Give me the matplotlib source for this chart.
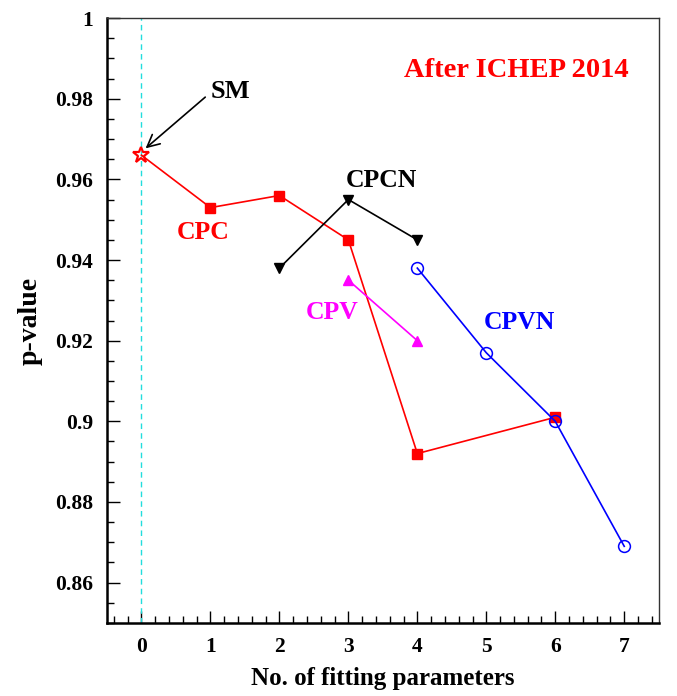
"""
p-value vs number of fitting parameters (after ICHEP 2014)
"""

import matplotlib
matplotlib.use('Agg')
import matplotlib.pyplot as plt
from matplotlib.ticker import MultipleLocator

plt.rcParams['font.family'] = 'Liberation Serif'
plt.rcParams['font.weight'] = 'bold'

# Data
cpc_x = [1, 2, 3, 4, 6]
cpc_y = [0.953, 0.956, 0.945, 0.892, 0.901]
sm_x = [0]
sm_y = [0.966]
cpcn_x = [2, 3, 4]
cpcn_y = [0.938, 0.955, 0.945]
cpv_x = [3, 4]
cpv_y = [0.935, 0.920]
cpvn_x = [4, 5, 6, 7]
cpvn_y = [0.938, 0.917, 0.900, 0.869]

fig = plt.figure(figsize=(6.77, 6.96), dpi=100)
ax = fig.add_axes([0.158, 0.105, 0.815, 0.869])

ax.axvline(0, color='#22dddd', linestyle='--', linewidth=1.0, dashes=(4, 3))

# CPC line starts at the SM point
ax.plot(sm_x + cpc_x, sm_y + cpc_y, color='red', linewidth=1.2)
ax.plot(cpc_x, cpc_y, 's', color='red', markersize=6.5)
ax.plot(sm_x, sm_y, '*', color='red', markersize=12, markerfacecolor='none',
        markeredgewidth=1.6)

ax.plot(cpcn_x, cpcn_y, 'v-', color='black', linewidth=1.2, markersize=7.5)
ax.plot(cpv_x, cpv_y, '^-', color='magenta', linewidth=1.2, markersize=7.5)
ax.plot(cpvn_x, cpvn_y, 'o-', color='blue', linewidth=1.2, markersize=8.5,
        markerfacecolor='none', markeredgewidth=1.1)

# Labels
ax.annotate('', xy=(0.06, 0.9677), xytext=(0.925, 0.9804),
            arrowprops=dict(arrowstyle='->', color='black', lw=1.2,
                            mutation_scale=22, shrinkA=0, shrinkB=0))
ax.text(1.0, 0.9819, 'SM', fontsize=19, fontweight='bold',
        ha='left', va='center')
ax.text(0.89, 0.9469, 'CPC', color='red', fontsize=18.5, fontweight='bold',
        ha='center', va='center')
ax.text(3.48, 0.9598, 'CPCN', color='black', fontsize=18.5, fontweight='bold',
        ha='center', va='center')
ax.text(2.77, 0.927, 'CPV', color='magenta', fontsize=18.5, fontweight='bold',
        ha='center', va='center')
ax.text(5.48, 0.9245, 'CPVN', color='blue', fontsize=18.5, fontweight='bold',
        ha='center', va='center')
ax.text(5.43, 0.9871, 'After ICHEP 2014', color='red', fontsize=20.5,
        fontweight='bold', ha='center', va='center')

ax.set_xlim(-0.5, 7.5)
ax.set_ylim(0.85, 1.0)
ax.xaxis.set_major_locator(MultipleLocator(1))
ax.xaxis.set_minor_locator(MultipleLocator(0.2))
ax.yaxis.set_minor_locator(MultipleLocator(0.005))
ax.set_yticks([0.86, 0.88, 0.9, 0.92, 0.94, 0.96, 0.98, 1.0])
ax.set_yticklabels(['0.86', '0.88', '0.9', '0.92', '0.94', '0.96', '0.98', '1'])

ax.tick_params(which='both', direction='in', top=False, right=False,
               labelsize=15.5, width=1.0)
ax.tick_params(which='major', length=9, pad=10)
ax.tick_params(which='minor', length=5)
for lbl in ax.get_xticklabels() + ax.get_yticklabels():
    lbl.set_fontweight('bold')

for side in ['left', 'bottom']:
    ax.spines[side].set_linewidth(1.8)
for side in ['top', 'right']:
    ax.spines[side].set_linewidth(1.0)
    ax.spines[side].set_color('#333333')

ax.set_xlabel('No. of fitting parameters', fontsize=18, fontweight='bold',
              labelpad=7)
ax.set_ylabel('p-value', fontsize=20, fontweight='bold', labelpad=9)

fig.savefig('out.png', dpi=100)
